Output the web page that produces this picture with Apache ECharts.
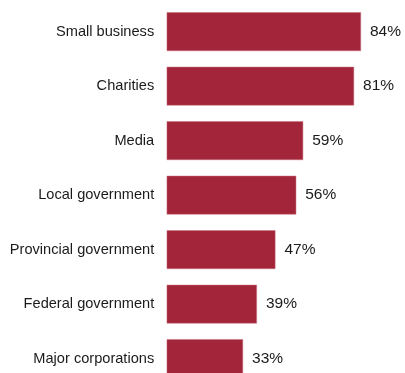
<!DOCTYPE html>
<html>
<head>
<meta charset="utf-8">
<script src="https://cdn.jsdelivr.net/npm/echarts@6/dist/echarts.min.js"></script>
<style>
html,body{margin:0;padding:0;background:#fff;overflow:hidden;}
#c{width:405px;height:390px;}
</style>
</head>
<body>
<div id="c"></div>
<script>
const categories = ["Small business","Charities","Media","Local government","Provincial government","Federal government","Major corporations"];
const values = [84,81,59,56,47,39,33];

const chart = echarts.init(document.getElementById('c'), null, {renderer:'canvas'});
chart.setOption({
  animation:false,
  grid:{left:166.7, top:4.4, width:231.3, height:381.5, containLabel:false},
  xAxis:{type:'value', min:0, max:100, show:false},
  yAxis:{type:'category', data:categories, inverse:true,
    axisLine:{show:false}, axisTick:{show:false}, splitLine:{show:false},
    axisLabel:{margin:12.5, color:'#1a1a1a', fontSize:14.6, fontFamily:'Liberation Sans, Arial, sans-serif'}},
  series:[{type:'bar', data:values, barWidth:38.7,
    itemStyle:{color:'#A22539', borderColor:'#c9707f', borderWidth:0.5},
    label:{show:true, position:'right', distance:9, formatter:'{c}%', color:'#1a1a1a', fontSize:15.5, fontFamily:'Liberation Sans, Arial, sans-serif'}}]
});
</script>
</body>
</html>
